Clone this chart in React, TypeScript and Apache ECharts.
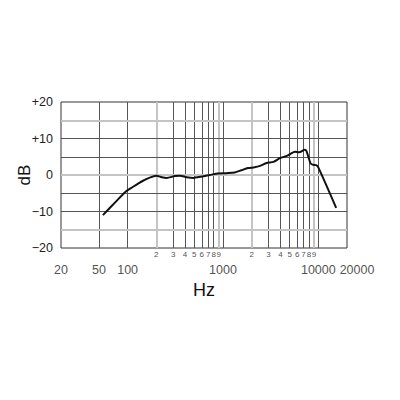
import React, { useEffect, useRef } from "react";
import * as echarts from "echarts";

// Frequency response curve (Hz, dB)
const freqs = [55, 74, 94, 110, 130, 158, 200, 228, 256, 313, 354, 416, 490, 580, 730, 890, 1100, 1330, 1560, 1830, 2150, 2450, 2870, 3380, 3960, 4740, 5690, 6300, 7200, 7500, 8300, 8800, 9500, 10000, 15400];
const dbValues = [-11.0, -7.5, -4.7, -3.5, -2.3, -1.1, -0.2, -0.6, -0.8, -0.3, -0.2, -0.6, -0.8, -0.5, 0, 0.4, 0.5, 0.7, 1.3, 1.9, 2.1, 2.5, 3.3, 3.6, 4.6, 5.3, 6.4, 6.2, 6.9, 6.6, 3.2, 2.8, 2.7, 2.1, -9.0];

// Grid lines
const darkVLines = [50, 100, 300, 400, 500, 600, 700, 800, 1000, 3000, 4000, 5000, 6000, 7000, 8000, 10000];
const lightVLines = [200, 900, 2000, 9000];
const darkHLines = [-10, -5, 5, 10];
const lightHLines = [-15, 0, 15];

// Tick labels
const minorTickFreqs = [200, 300, 400, 500, 600, 700, 800, 900, 2000, 3000, 4000, 5000, 6000, 7000, 8000, 9000];
const minorTickLabels = ["2", "3", "4", "5", "6", "7", "8", "9", "2", "3", "4", "5", "6", "7", "8", "9"];
const majorTickFreqs = [20, 50, 100, 1000, 10000, 20000];
const majorTickLabels = ["20", "50", "100", "1000", "10000", "20000"];

const FONT = "'Liberation Sans', Arial, sans-serif";

export default function App() {
  const ref = useRef<HTMLDivElement>(null);
  useEffect(() => {
    if (!ref.current) return;
    const chart = echarts.init(ref.current, undefined, { renderer: "svg" });
    const dark = { color: "#555", width: 1, type: "solid" as const };
    const light = { color: "#c4c4c4", width: 2, type: "solid" as const };
    const gridLines = [
      ...darkVLines.map((v) => ({ xAxis: v, lineStyle: dark })),
      ...lightVLines.map((v) => ({ xAxis: v, lineStyle: light })),
      ...darkHLines.map((v) => ({ yAxis: v, lineStyle: dark })),
      ...lightHLines.map((v) => ({ yAxis: v, lineStyle: light })),
    ];
    chart.setOption({
      animation: false,
      textStyle: { fontFamily: FONT },
      grid: {
        left: 61,
        right: 53,
        top: 102,
        bottom: 152,
        containLabel: false,
        outerBoundsMode: "none",
        show: true,
        borderColor: "#333",
        borderWidth: 1,
        backgroundColor: "transparent",
      },
      xAxis: {
        type: "log",
        logBase: 10,
        min: 20,
        max: 20000,
        name: "Hz",
        nameLocation: "middle",
        nameGap: 33,
        nameMoveOverlap: false,
        nameTextStyle: { fontSize: 18, color: "#111", fontFamily: FONT },
        axisLine: { show: false },
        axisTick: { show: false },
        axisLabel: { show: false },
        splitLine: { show: false },
      },
      yAxis: {
        type: "value",
        min: -20,
        max: 20,
        interval: 10,
        name: "dB",
        nameLocation: "middle",
        nameRotate: 90,
        nameGap: 28,
        nameMoveOverlap: false,
        nameTextStyle: { fontSize: 17, color: "#111", fontFamily: FONT },
        axisLine: { show: false },
        axisTick: { show: false },
        splitLine: { show: false },
        axisLabel: {
          margin: 8,
          fontSize: 12.5,
          color: "#222",
          fontFamily: FONT,
          formatter: (v: number) => (v > 0 ? "+" + v : v < 0 ? "\u2212" + Math.abs(v) : "0"),
        },
      },
      series: [
        {
          type: "line",
          name: "grid",
          data: [],
          z: 1,
          silent: true,
          markLine: {
            silent: true,
            symbol: ["none", "none"],
            label: { show: false },
            emphasis: { disabled: true },
            data: gridLines,
          },
        },
        {
          type: "line",
          name: "response",
          z: 5,
          data: freqs.map((f, i) => [f, dbValues[i]]),
          symbol: "none",
          smooth: 0.25,
          lineStyle: { color: "#111", width: 2 },
        },
        {
          type: "scatter",
          name: "minorLabels",
          clip: false,
          silent: true,
          symbolSize: 1,
          itemStyle: { color: "rgba(0,0,0,0)" },
          data: minorTickFreqs.map((f, i) => ({ value: [f, -20], name: minorTickLabels[i] })),
          label: {
            show: true,
            position: "bottom",
            distance: 2,
            fontSize: 8,
            color: "#222",
            fontFamily: FONT,
            formatter: (p: any) => p.name,
          },
        },
        {
          type: "scatter",
          name: "majorLabels",
          clip: false,
          silent: true,
          symbolSize: 1,
          itemStyle: { color: "rgba(0,0,0,0)" },
          data: majorTickFreqs.map((f, i) => ({
            value: [f, -20],
            name: majorTickLabels[i],
            label: f === 20000 ? { offset: [10, 0] } : undefined,
          })),
          label: {
            show: true,
            position: "bottom",
            distance: 15,
            fontSize: 12.5,
            color: "#222",
            fontFamily: FONT,
            formatter: (p: any) => p.name,
          },
        },
      ],
    });
    return () => chart.dispose();
  }, []);
  return <div ref={ref} style={{ position: "fixed", left: 0, top: 0, width: 400, height: 400, background: "#fff" }} />;
}
